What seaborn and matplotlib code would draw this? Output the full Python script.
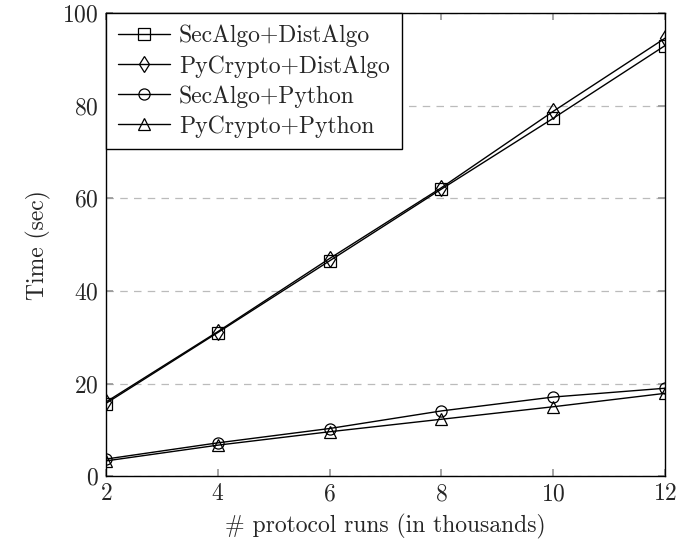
import numpy as np
import pandas as pd
import seaborn as sns
import matplotlib.pyplot as plt

# values
runs = [2, 4, 6, 8, 10, 12]
secalgo_distalgo = [15.7, 31.0, 46.5, 62.0, 77.3, 93.0]
pycrypto_distalgo = [16.0, 31.2, 47.0, 62.3, 78.8, 94.6]
secalgo_python = [3.7, 7.2, 10.3, 14.1, 17.1, 19.0]
pycrypto_python = [3.3, 6.7, 9.6, 12.3, 15.0, 17.9]

series = ["SecAlgo+DistAlgo", "PyCrypto+DistAlgo", "SecAlgo+Python", "PyCrypto+Python"]
markers = ["s", "d", "o", "^"]

df = pd.concat([
    pd.DataFrame({"runs": runs, "time": secalgo_distalgo, "series": series[0]}),
    pd.DataFrame({"runs": runs, "time": pycrypto_distalgo, "series": series[1]}),
    pd.DataFrame({"runs": runs, "time": secalgo_python, "series": series[2]}),
    pd.DataFrame({"runs": runs, "time": pycrypto_python, "series": series[3]}),
])

sns.set_theme(style="white")
plt.rcParams["font.family"] = ["cmr10", "DejaVu Serif"]
plt.rcParams["axes.formatter.use_mathtext"] = True
plt.rcParams["mathtext.fontset"] = "cm"

fig = plt.figure(figsize=(6.78, 5.48), dpi=100)
ax = fig.add_axes([0.156, 0.131, 0.825, 0.845])

sns.lineplot(
    data=df, x="runs", y="time", hue="series", style="series",
    palette=["black"] * 4, markers=markers, dashes=False,
    markersize=8, markerfacecolor="none", markeredgecolor="black",
    markeredgewidth=0.9, linewidth=1.0, ax=ax,
)

ax.set_xlim(2, 12)
ax.set_ylim(0, 100)
ax.set_xticks(runs)
ax.set_yticks([0, 20, 40, 60, 80, 100])
ax.yaxis.grid(True, linestyle=(0, (6, 5)), color="#bbbbbb", linewidth=0.9)
ax.xaxis.grid(False)
ax.tick_params(direction="in", length=5, color="#999999", labelsize=17,
               top=True, right=True, bottom=True, left=True, pad=5)
for s in ax.spines.values():
    s.set_color("black")
    s.set_linewidth(1.0)

ax.set_xlabel("# protocol runs (in thousands)", fontsize=17, labelpad=6)
ax.set_ylabel("Time (sec)", fontsize=17, labelpad=8)

leg = ax.legend(loc="upper left", bbox_to_anchor=(0, 1), borderaxespad=0,
                fontsize=17, frameon=True, fancybox=False, edgecolor="black",
                framealpha=1, handlelength=2.2, handletextpad=0.4,
                labelspacing=0.32, borderpad=0.5)
leg.get_frame().set_linewidth(1.0)

fig.savefig("out.png", dpi=100)
